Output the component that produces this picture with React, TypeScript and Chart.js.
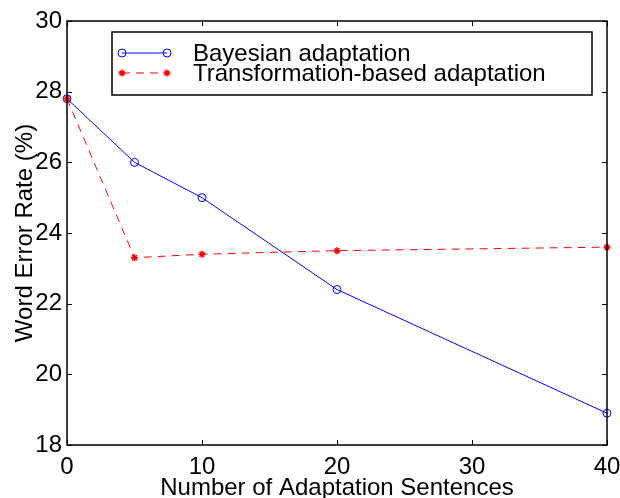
import React, { useEffect, useRef } from "react";
import { Chart, registerables } from "chart.js";

Chart.register(...registerables);

const sentences = [0, 5, 10, 20, 40];
const bayesian = [27.8, 26.0, 25.0, 22.4, 18.9];
const transformation = [27.8, 23.3, 23.4, 23.5, 23.6];
const seriesLabels = ["Bayesian adaptation", "Transformation-based adaptation"];
const xTitle = "Number of Adaptation Sentences";
const yTitle = "Word Error Rate (%)";

const FONT = "'Liberation Sans', Arial, Helvetica, sans-serif";

const boxPlugin = {
  id: "matlabBox",
  afterDatasetsDraw(chart: any) {
    const { ctx, chartArea, scales } = chart;
    const { left, right, top, bottom } = chartArea;
    ctx.save();
    ctx.strokeStyle = "#000";
    ctx.lineWidth = 1.5;
    ctx.strokeRect(left, top, right - left, bottom - top);
    ctx.lineWidth = 1;
    const tl = 5;
    ctx.beginPath();
    scales.x.ticks.forEach((t: any) => {
      const px = Math.round(scales.x.getPixelForValue(t.value)) + 0.5;
      ctx.moveTo(px, bottom);
      ctx.lineTo(px, bottom - tl);
      ctx.moveTo(px, top);
      ctx.lineTo(px, top + tl);
    });
    scales.y.ticks.forEach((t: any) => {
      const py = Math.round(scales.y.getPixelForValue(t.value)) + 0.5;
      ctx.moveTo(left, py);
      ctx.lineTo(left + tl, py);
      ctx.moveTo(right, py);
      ctx.lineTo(right - tl, py);
    });
    ctx.stroke();

    // legend
    const lx = left + 45;
    const ly = top + 11;
    const lw = 480;
    const lh = 63;
    ctx.fillStyle = "#fff";
    ctx.fillRect(lx, ly, lw, lh);
    ctx.lineWidth = 1.5;
    ctx.strokeStyle = "#000";
    ctx.strokeRect(lx, ly, lw, lh);
    chart.data.datasets.forEach((ds: any, i: number) => {
      const rowY = ly + 21 + i * 20;
      const x0 = lx + 10;
      const x1 = lx + 55;
      ctx.save();
      ctx.strokeStyle = ds.borderColor;
      ctx.lineWidth = ds.borderWidth;
      ctx.setLineDash(ds.borderDash || []);
      ctx.beginPath();
      ctx.moveTo(x0, rowY);
      ctx.lineTo(x1, rowY);
      ctx.stroke();
      ctx.restore();
      const style = ds.pointStyle;
      const r = ds.pointRadius;
      [x0, x1].forEach((px) => {
        ctx.save();
        ctx.strokeStyle = ds.pointBorderColor || ds.borderColor;
        ctx.lineWidth = ds.pointBorderWidth || 1;
        ctx.beginPath();
        if (style === "circle") {
          ctx.arc(px, rowY, r, 0, Math.PI * 2);
        } else {
          for (let k = 0; k < 4; k++) {
            const a = (k * Math.PI) / 4;
            ctx.moveTo(px - Math.cos(a) * r, rowY - Math.sin(a) * r);
            ctx.lineTo(px + Math.cos(a) * r, rowY + Math.sin(a) * r);
          }
        }
        ctx.stroke();
        ctx.restore();
      });
      ctx.fillStyle = "#000";
      ctx.font = `24px ${FONT}`;
      ctx.textBaseline = "middle";
      ctx.textAlign = "left";
      ctx.fillText(ds.label, lx + 81, rowY + 1);
    });
    ctx.restore();
  },
};

export default function App() {
  const ref = useRef<HTMLCanvasElement | null>(null);
  useEffect(() => {
    document.body.style.margin = "0";
    const canvas = ref.current!;
    const chart = new Chart(canvas, {
      type: "line",
      data: {
        labels: sentences,
        datasets: [
          {
            label: seriesLabels[0],
            data: sentences.map((x, i) => ({ x, y: bayesian[i] })),
            borderColor: "#0000ff",
            backgroundColor: "rgba(0,0,0,0)",
            borderWidth: 1,
            pointStyle: "circle",
            pointRadius: 4,
            pointBorderWidth: 1,
            pointBorderColor: "#0000ff",
            pointBackgroundColor: "rgba(0,0,0,0)",
            tension: 0,
            clip: false as any,
            order: 1,
          },
          {
            label: seriesLabels[1],
            data: sentences.map((x, i) => ({ x, y: transformation[i] })),
            borderColor: "#ff0000",
            backgroundColor: "rgba(0,0,0,0)",
            borderWidth: 1,
            borderDash: [8, 6],
            pointStyle: "star",
            pointRadius: 3.5,
            pointBorderWidth: 1.5,
            pointBorderColor: "#ff0000",
            pointBackgroundColor: "#ff0000",
            tension: 0,
            clip: false as any,
            order: 0,
          },
        ],
      },
      options: {
        animation: false,
        responsive: false,
        maintainAspectRatio: false,
        events: [],
        layout: { padding: { top: 21, right: 13, left: 0, bottom: 0 } },
        plugins: { legend: { display: false }, tooltip: { enabled: false } },
        scales: {
          x: {
            type: "linear",
            min: 0,
            max: 40,
            grid: { display: false, drawTicks: false },
            border: { display: false },
            ticks: {
              stepSize: 10,
              padding: 8,
              color: "#000",
              font: { family: FONT, size: 24 },
              maxRotation: 0,
            },
            title: {
              display: true,
              text: xTitle,
              color: "#000",
              font: { family: FONT, size: 24, lineHeight: 0.8 },
              padding: { top: 0, bottom: 0 },
            },
            afterFit: (s: any) => {
              s.height = 53;
              s.paddingLeft = 0;
              s.paddingRight = 0;
            },
          },
          y: {
            min: 18,
            max: 30,
            grid: { display: false, drawTicks: false },
            border: { display: false },
            ticks: {
              stepSize: 2,
              padding: 5,
              color: "#000",
              font: { family: FONT, size: 24 },
            },
            title: {
              display: true,
              text: yTitle,
              color: "#000",
              font: { family: FONT, size: 24 },
              padding: { top: 11, bottom: 0 },
            },
            afterFit: (s: any) => {
              s.width = 67;
              s.paddingTop = 0;
              s.paddingBottom = 0;
            },
          },
        },
      },
      plugins: [boxPlugin],
    });
    return () => chart.destroy();
  }, []);
  return (
    <div style={{ position: "absolute", left: 0, top: 0, width: 620, height: 498, background: "#fff" }}>
      <canvas ref={ref} width={620} height={498} style={{ width: 620, height: 498 }} />
    </div>
  );
}
